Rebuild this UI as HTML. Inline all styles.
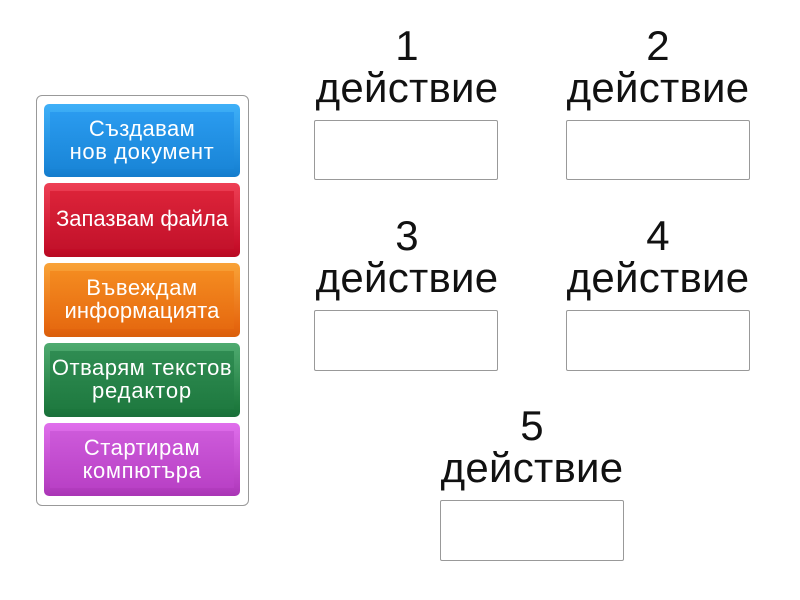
<!DOCTYPE html>
<html><head><meta charset="utf-8">
<style>
html,body{margin:0;padding:0;background:#fff;width:800px;height:600px;overflow:hidden;font-family:"Liberation Sans",sans-serif}
.a{position:absolute}
.panel{left:35.5px;top:95px;width:211px;height:409px;border:1.5px solid #999;border-radius:6px;background:#fff}
.btn{position:absolute;left:44px;width:196px;border-radius:5px;overflow:hidden}
.btn .in{position:absolute;left:6px;right:6px;top:8px;bottom:8px}
.btn .t{position:absolute;left:0;right:0;top:-2px;bottom:0;display:flex;align-items:center;justify-content:center;text-align:center;color:#fff;font-size:22px;line-height:23px;white-space:nowrap}
.lab{position:absolute;width:240px;text-align:center;font-size:42px;line-height:42px;letter-spacing:.25px;color:#111;white-space:nowrap}
.lab b{font-weight:normal;position:relative;left:0}
.box{position:absolute;width:182px;height:58px;border:1px solid #999;border-radius:2px;background:#fff}
</style></head><body>
<div class="a panel"></div>

<div class="btn" style="top:104px;height:73px;background:linear-gradient(#3fb0f8,#1a86d8 85%,#137ccc)">
<div class="in" style="background:linear-gradient(#2a9bef,#1a86d8)"></div>
<div class="t"><div><span style="letter-spacing:.4px">Създавам</span><br><span style="letter-spacing:.6px">нов документ</span></div></div></div>

<div class="btn" style="top:183px;height:74px;background:linear-gradient(#ee4055,#c70f2a 85%,#b80a22)">
<div class="in" style="background:linear-gradient(#dc2339,#c3122b)"></div>
<div class="t" style="top:-3px"><span>Запазвам файла</span></div></div>

<div class="btn" style="top:263px;height:74px;background:linear-gradient(#f9a338,#e6670f 85%,#d95f0c)">
<div class="in" style="background:linear-gradient(#f48b20,#e66a10)"></div>
<div class="t"><div><span style="letter-spacing:.6px">Въвеждам</span><br><span style="letter-spacing:.15px">информацията</span></div></div></div>

<div class="btn" style="top:343px;height:74px;background:linear-gradient(#4fab70,#1e7a3e 85%,#19703a)">
<div class="in" style="background:linear-gradient(#2f8c52,#1f7a40)"></div>
<div class="t"><div><span style="letter-spacing:.5px">Отварям текстов</span><br><span style="letter-spacing:.85px">редактор</span></div></div></div>

<div class="btn" style="top:423px;height:73px;background:linear-gradient(#e06fec,#b63fc2 85%,#a935b5)">
<div class="in" style="background:linear-gradient(#cd5ada,#b941c6)"></div>
<div class="t"><div><span style="letter-spacing:.5px">Стартирам</span><br><span style="letter-spacing:.6px">компютъра</span></div></div></div>

<div class="lab" style="left:287px;top:25px"><b>1</b><br>действие</div>
<div class="box" style="left:314px;top:120px"></div>
<div class="lab" style="left:538px;top:25px"><b>2</b><br>действие</div>
<div class="box" style="left:566px;top:120px"></div>
<div class="lab" style="left:287px;top:215px"><b>3</b><br>действие</div>
<div class="box" style="left:314px;top:310px;height:59px"></div>
<div class="lab" style="left:538px;top:215px"><b>4</b><br>действие</div>
<div class="box" style="left:566px;top:310px;height:59px"></div>
<div class="lab" style="left:412px;top:405px"><b>5</b><br>действие</div>
<div class="box" style="left:440px;top:500px;height:59px"></div>
</body></html>
